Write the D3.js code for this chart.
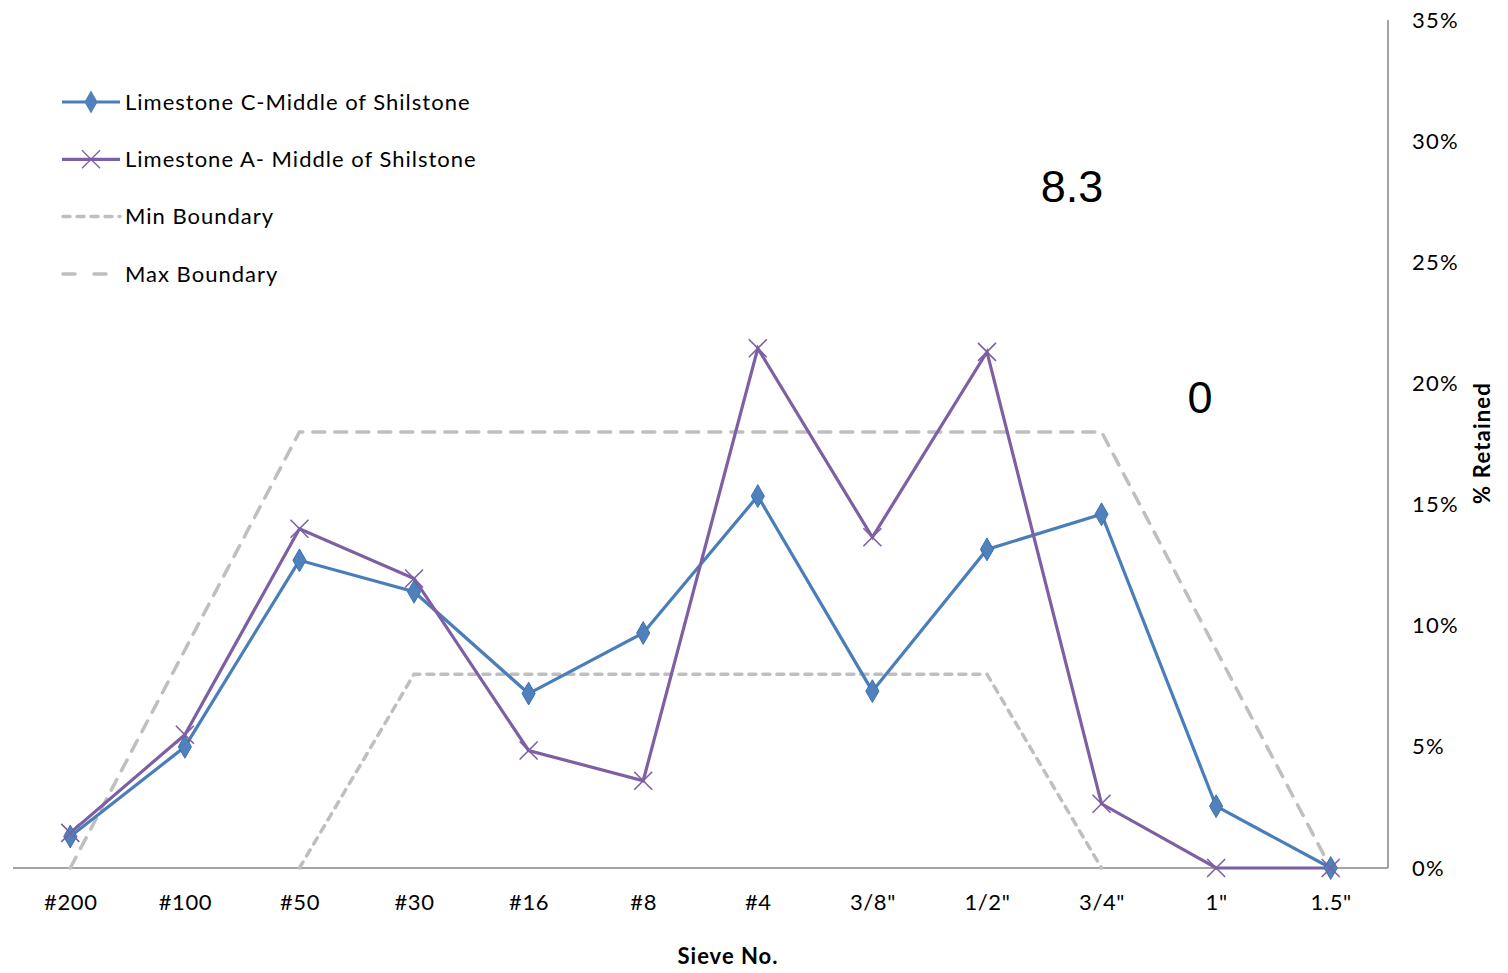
<!DOCTYPE html>
<html><head><meta charset="utf-8">
<script src="https://cdn.jsdelivr.net/npm/d3@7"></script>
<style>body{margin:0;background:#fff;} svg{display:block;}</style>
</head><body>
<svg id="c" width="1508" height="973"></svg>
<script>
const categories = ['#200','#100','#50','#30','#16','#8','#4','3/8"','1/2"','3/4"','1"','1.5"'];
const limestoneC = [1.3, 5.0, 12.7, 11.4, 7.2, 9.7, 15.35, 7.3, 13.15, 14.6, 2.55, 0];
const limestoneA = [1.45, 5.5, 14.0, 11.95, 4.85, 3.6, 21.45, 13.65, 21.3, 2.65, 0, 0];
const minBoundary = [null, null, 0, 8, 8, 8, 8, 8, 8, 0, null, null];
const maxBoundary = [0, 9, 18, 18, 18, 18, 18, 18, 18, 18, 9, 0];
const yTicks = [0, 5, 10, 15, 20, 25, 30, 35];
const annotations = [{text: '8.3'}, {text: '0'}];

const svg = d3.select('#c');
const x = d3.scalePoint().domain(categories).range([13, 1388]).padding(0.5);
const y = d3.scaleLinear().domain([0, 35]).range([868, 20]);
const font = 'Lato, "Open Sans", sans-serif';

// axes
const xAxis = svg.append('g').attr('transform', 'translate(0,868)')
  .call(d3.axisBottom(x).tickSize(0).tickPadding(26));
xAxis.select('.domain').attr('stroke', '#868686').attr('stroke-width', 1.5).attr('d', 'M13,0H1388');
xAxis.selectAll('text').attr('font-family', font).attr('font-size', 22).attr('letter-spacing', 0.6).attr('fill', '#000');

const yAxis = svg.append('g').attr('transform', 'translate(1388,0)')
  .call(d3.axisRight(y).tickValues(yTicks).tickSize(0).tickPadding(24).tickFormat(d => d + '%'));
yAxis.select('.domain').attr('stroke', '#868686').attr('stroke-width', 1.5).attr('d', 'M0,20V868');
yAxis.selectAll('text').attr('font-family', font).attr('font-size', 22).attr('letter-spacing', 1.2).attr('fill', '#000');

const line = d3.line().defined(d => d != null).x((d, i) => x(categories[i])).y(d => y(d));

// boundaries
svg.append('path').datum(maxBoundary).attr('d', line).attr('fill', 'none')
  .attr('stroke', '#BFBFBF').attr('stroke-width', 3.5).attr('stroke-dasharray', '12,10').attr('stroke-linecap', 'round');
svg.append('path').datum(minBoundary).attr('d', line).attr('fill', 'none')
  .attr('stroke', '#BFBFBF').attr('stroke-width', 3.5).attr('stroke-dasharray', '7,7').attr('stroke-linecap', 'round');

const blue = '#4A7EBB', purple = '#7D5FA3';
svg.append('path').datum(limestoneC).attr('d', line).attr('fill', 'none').attr('stroke', blue).attr('stroke-width', 3.2);
svg.append('path').datum(limestoneA).attr('d', line).attr('fill', 'none').attr('stroke', purple).attr('stroke-width', 3.2);

const diamond = d3.symbol().type(d3.symbolDiamond).size(150);
svg.append('g').selectAll('path').data(limestoneC).join('path')
  .attr('d', diamond).attr('transform', (d, i) => `translate(${x(categories[i])},${y(d)})`)
  .attr('fill', '#4F81BD').attr('stroke', '#3F70AE').attr('stroke-width', 1);
svg.append('g').selectAll('path').data(limestoneA).join('path')
  .attr('d', 'M-9,-9L9,9M-9,9L9,-9').attr('transform', (d, i) => `translate(${x(categories[i])},${y(d)})`)
  .attr('fill', 'none').attr('stroke', purple).attr('stroke-width', 1.6);

// legend
const legend = [
  {name: 'Limestone C-Middle of Shilstone', type: 'C'},
  {name: 'Limestone A- Middle of Shilstone', type: 'A'},
  {name: 'Min Boundary', type: 'min'},
  {name: 'Max Boundary', type: 'max'}
];
const lg = svg.append('g');
legend.forEach((l, i) => {
  const yy = 102 + i * 57.3;
  const g = lg.append('g').attr('transform', `translate(0,${yy})`);
  if (l.type === 'C') {
    g.append('line').attr('x1', 62).attr('x2', 120).attr('stroke', blue).attr('stroke-width', 3.2);
    g.append('path').attr('d', diamond).attr('transform', 'translate(91,0)').attr('fill', '#4F81BD');
  } else if (l.type === 'A') {
    g.append('line').attr('x1', 62).attr('x2', 120).attr('stroke', purple).attr('stroke-width', 3.2);
    g.append('path').attr('d', 'M-9,-9L9,9M-9,9L9,-9').attr('transform', 'translate(91,0)').attr('stroke', purple).attr('stroke-width', 1.3);
  } else if (l.type === 'min') {
    g.append('line').attr('x1', 63).attr('x2', 120).attr('stroke', '#BFBFBF').attr('stroke-width', 3.5)
      .attr('stroke-dasharray', '7,7').attr('stroke-linecap', 'round');
  } else {
    g.append('line').attr('x1', 63).attr('x2', 106).attr('stroke', '#BFBFBF').attr('stroke-width', 3.5)
      .attr('stroke-dasharray', '12,19').attr('stroke-linecap', 'round');
  }
  g.append('text').attr('x', 125).attr('dy', '0.35em').attr('font-family', font).attr('font-size', 22)
    .attr('letter-spacing', 1).attr('fill', '#000').text(l.name);
});

// annotations
svg.append('text').attr('x', 1072).attr('y', 202).attr('text-anchor', 'middle')
  .attr('font-family', 'Liberation Sans, Arial, sans-serif').attr('font-size', 45).text(annotations[0].text);
svg.append('text').attr('x', 1200).attr('y', 413).attr('text-anchor', 'middle')
  .attr('font-family', 'Liberation Sans, Arial, sans-serif').attr('font-size', 45).text(annotations[1].text);

// axis titles
svg.append('text').attr('x', 728).attr('y', 964).attr('text-anchor', 'middle')
  .attr('font-family', font).attr('font-weight', 'bold').attr('font-size', 22).attr('letter-spacing', 1).text('Sieve No.');
svg.append('text').attr('transform', 'translate(1490,443) rotate(-90)').attr('text-anchor', 'middle')
  .attr('font-family', font).attr('font-weight', 'bold').attr('font-size', 22).attr('letter-spacing', 1.2).text('% Retained');
</script>
</body></html>
